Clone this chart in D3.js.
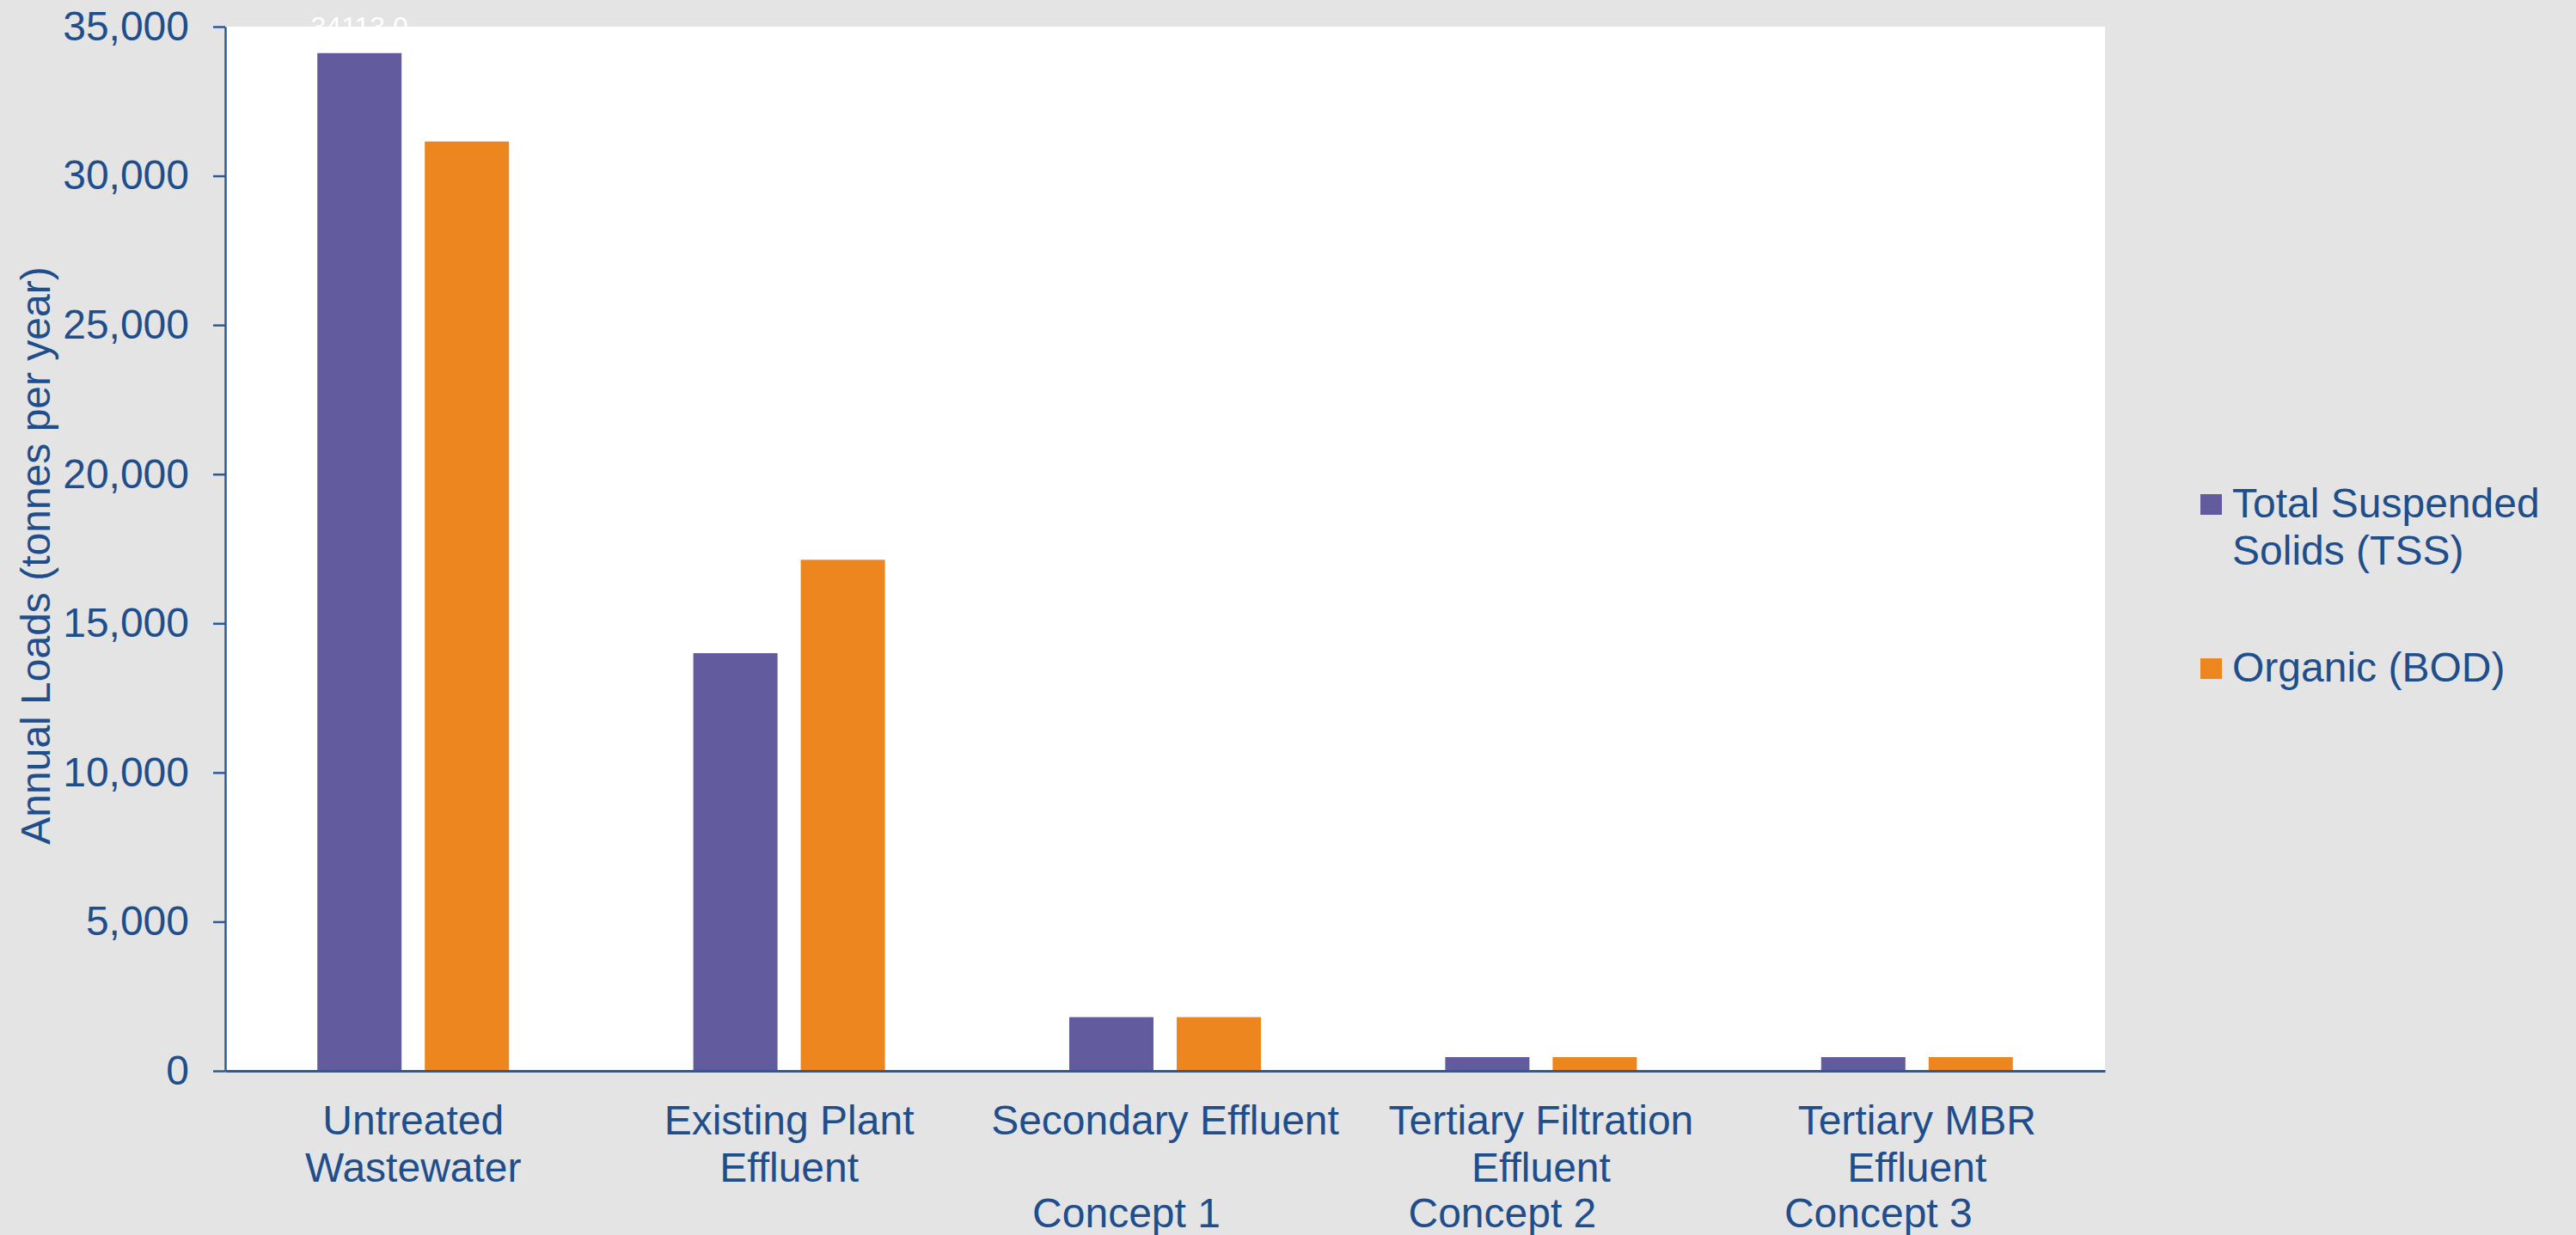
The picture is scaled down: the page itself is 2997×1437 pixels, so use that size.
<!DOCTYPE html>
<html>
<head>
<meta charset="utf-8">
<script src="https://cdn.jsdelivr.net/npm/d3@7"></script>
<style>
    body { margin: 0; background: #e4e4e4; }
    svg { display: block; }
    text { font-family: "Liberation Sans", Arial, sans-serif; }
</style>
</head>
<body>
<svg id="chart" width="2997" height="1437"></svg>
<script>
// categories (multi-line labels) and the concept notes under them
let categories = ["Untreated Wastewater", "Existing Plant Effluent", "Secondary Effluent",
    "Tertiary Filtration Effluent", "Tertiary MBR Effluent"];
let categoryLines = [["Untreated", "Wastewater"], ["Existing Plant", "Effluent"], ["Secondary Effluent"],
    ["Tertiary Filtration", "Effluent"], ["Tertiary MBR", "Effluent"]];
let conceptLabels = ["", "", "Concept 1", "Concept 2", "Concept 3"];

// series, tonnes per year
let seriesNames = ["Total Suspended Solids (TSS)", "Organic (BOD)"];
let legendLines = [["Total Suspended", "Solids (TSS)"], ["Organic (BOD)"]];
let tssValues = [34113, 14000, 1800, 460, 460];
let bodValues = [31150, 17130, 1800, 460, 460];

let yTicks = [0, 5000, 10000, 15000, 20000, 25000, 30000, 35000];
let yTitle = "Annual Loads (tonnes per year)";

let colors = ["#625b9e", "#ee861f"];
let textColor = "#1f4e8c";
let axisColor = "#2b5a99";

let svg = d3.select("#chart");
let margin = {top: 31, right: 548, bottom: 191, left: 262};
let width = 2997 - margin.left - margin.right;
let height = 1437 - margin.top - margin.bottom;

let g = svg.append("g")
    .attr("transform", "translate(" + margin.left + "," + margin.top + ")");

// white plot area
g.append("rect")
    .attr("width", width)
    .attr("height", height)
    .attr("fill", "#ffffff");

let x0 = d3.scaleBand()
    .domain(categories)
    .range([0, width]);

let groupWidth = 223;
let x1 = d3.scaleBand()
    .domain(seriesNames)
    .range([0, groupWidth])
    .paddingInner(0.216);

let yScale = d3.scaleLinear()
    .domain([0, 35000])
    .range([height, 0]);

let rows = categories.map(function (c, i) {
    return {cat: c, values: [tssValues[i], bodValues[i]]};
});

// bars
let groups = g.selectAll(".group")
    .data(rows)
    .enter().append("g")
    .attr("class", "group")
    .attr("transform", function (d) {
        return "translate(" + (x0(d.cat) + (x0.bandwidth() - groupWidth) / 2) + ",0)";
    });

groups.selectAll("rect")
    .data(function (d) {
        return d.values.map(function (v, i) { return {name: seriesNames[i], value: v, i: i}; });
    })
    .enter().append("rect")
    .attr("x", function (d) { return x1(d.name); })
    .attr("y", function (d) { return yScale(d.value); })
    .attr("width", x1.bandwidth())
    .attr("height", function (d) { return height - yScale(d.value); })
    .attr("fill", function (d) { return colors[d.i]; });

// stray white data label above the first bar
g.append("text")
    .attr("x", x0(categories[0]) + (x0.bandwidth() - groupWidth) / 2 + x1(seriesNames[0]) + x1.bandwidth() / 2)
    .attr("y", yScale(tssValues[0]) - 20)
    .attr("text-anchor", "middle")
    .attr("fill", "#ffffff")
    .style("font-size", "32px")
    .text(d3.format(".1f")(tssValues[0]));

// y axis
let yAxis = d3.axisLeft(yScale)
    .tickValues(yTicks)
    .tickSize(14)
    .tickSizeOuter(0)
    .tickPadding(28)
    .tickFormat(d3.format(","));

let yAxisGroup = g.append("g").call(yAxis);
yAxisGroup.select(".domain").attr("stroke", axisColor).attr("stroke-width", 2.5);
yAxisGroup.selectAll(".tick line").attr("stroke", axisColor).attr("stroke-width", 2.5);
yAxisGroup.selectAll(".tick text")
    .attr("fill", textColor)
    .style("font-size", "48px")
    .style("font-family", "Liberation Sans, Arial, sans-serif");

// x axis
let xAxis = d3.axisBottom(x0)
    .tickSize(0)
    .tickSizeOuter(0);

let xAxisGroup = g.append("g")
    .attr("transform", "translate(0," + height + ")")
    .call(xAxis);
xAxisGroup.select(".domain").attr("stroke", axisColor).attr("stroke-width", 3);
xAxisGroup.selectAll(".tick text").remove();

xAxisGroup.selectAll(".tick").each(function (d, i) {
    let t = d3.select(this).append("text")
        .attr("text-anchor", "middle")
        .attr("fill", textColor)
        .style("font-size", "48px")
        .style("font-family", "Liberation Sans, Arial, sans-serif");
    categoryLines[i].forEach(function (line, k) {
        t.append("tspan")
            .attr("x", 0)
            .attr("y", 74 + k * 55)
            .text(line);
    });
    if (conceptLabels[i]) {
        d3.select(this).append("text")
            .attr("x", -45)
            .attr("y", 182)
            .attr("text-anchor", "middle")
            .attr("fill", textColor)
            .style("font-size", "48px")
            .style("font-family", "Liberation Sans, Arial, sans-serif")
            .text(conceptLabels[i]);
    }
});

// y axis title
svg.append("text")
    .attr("transform", "translate(58," + (margin.top + height / 2 + 8) + ") rotate(-90)")
    .attr("text-anchor", "middle")
    .attr("fill", textColor)
    .style("font-size", "48px")
    .text(yTitle);

// legend
let legendY = [575, 766];
let legend = svg.append("g").attr("transform", "translate(2560,0)");
seriesNames.forEach(function (name, i) {
    legend.append("rect")
        .attr("x", 0)
        .attr("y", legendY[i])
        .attr("width", 25)
        .attr("height", 24)
        .attr("fill", colors[i]);
    let t = legend.append("text")
        .attr("fill", textColor)
        .style("font-size", "48px");
    legendLines[i].forEach(function (line, k) {
        t.append("tspan")
            .attr("x", 37)
            .attr("y", legendY[i] + 27 + k * 55)
            .text(line);
    });
});
</script>
</body>
</html>
